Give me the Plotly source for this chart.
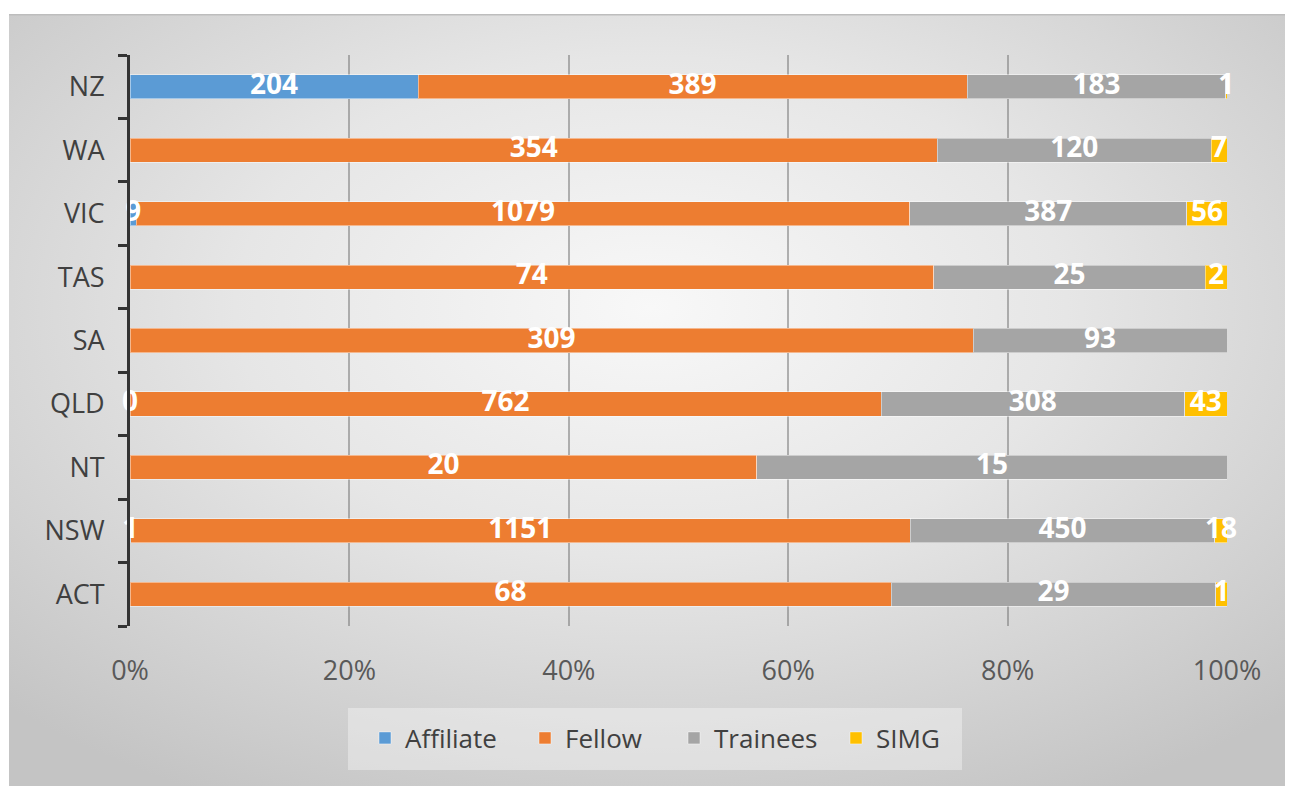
import base64
import numpy as np
import plotly.graph_objects as go

categories = ["ACT", "NSW", "NT", "QLD", "SA", "TAS", "VIC", "WA", "NZ"]
affiliate = [None, 1, None, 0, None, None, 9, None, 204]
fellow = [68, 1151, 20, 762, 309, 74, 1079, 354, 389]
trainees = [29, 450, 15, 308, 93, 25, 387, 120, 183]
simg = [1, 18, None, 43, None, 2, 56, 7, 1]
series_names = ["Affiliate", "Fellow", "Trainees", "SIMG"]
series_colors = ["#5B9BD5", "#ED7D31", "#A5A5A5", "#FFC000"]
legend_widths = [115, 104, 117, 80]
x_ticks = [0, 20, 40, 60, 80, 100]

series = [affiliate, fellow, trainees, simg]

# page has an 8px body margin, so the figure is sized to fit the window
W, H = 1285, 778
ml, mr, mt, mb = 122, 66, 47, 160
pw, ph = W - ml - mr, H - mt - mb

# background radial gradient (chart area style)
cw, ch = W - 1, H - 6
svg = (
    f'<svg xmlns="http://www.w3.org/2000/svg" width="{cw}" height="{ch}" viewBox="0 0 {cw} {ch}" preserveAspectRatio="none">'
    '<defs><radialGradient id="g" cx="50%" cy="38%" r="72%" fx="50%" fy="38%">'
    '<stop offset="0%" stop-color="#f8f8f8"/>'
    '<stop offset="45%" stop-color="#e6e6e6"/>'
    '<stop offset="100%" stop-color="#c4c4c4"/>'
    '</radialGradient></defs>'
    f'<rect x="0" y="0" width="{cw}" height="{ch}" fill="url(#g)"/>'
    f'<line x1="0" y1="0.75" x2="{cw}" y2="0.75" stroke="#bdbdbd" stroke-width="1.5"/>'
    '</svg>'
)
src = "data:image/svg+xml;base64," + base64.b64encode(svg.encode()).decode()
img_x = (1 - ml) / pw
img_y = (H - mb - 6) / ph
img_w = cw / pw
img_h = ch / ph

def px_to_paper_x(px):
    return (px - ml) / pw

def px_to_paper_y(py):
    return (H - mb - py) / ph

fig = go.Figure()

for name, vals, col, lw in zip(series_names, series, series_colors, legend_widths):
    fig.add_trace(go.Bar(
        name=name, y=categories, x=[v if v is not None else 0 for v in vals],
        orientation="h", marker=dict(color=col, line=dict(color="rgba(255,255,255,0.45)", width=1)),
        hoverinfo="x+y+name", legendwidth=lw,
    ))

# data labels centred on each segment
arr = np.array([[np.nan if v is None else v for v in s] for s in series], dtype=float)
filled = np.nan_to_num(arr)
totals = filled.sum(axis=0)
cum = np.cumsum(filled, axis=0)
for i, name in enumerate(series_names):
    mids = (cum[i] - filled[i] / 2) / totals * 100
    texts = ["" if np.isnan(v) else str(int(v)) for v in arr[i]]
    fig.add_trace(go.Scatter(
        x=mids, y=categories, mode="text", text=texts, showlegend=False,
        textfont=dict(color="white", size=28, family="Open Sans", weight="bold"),
        hoverinfo="skip", cliponaxis=False,
    ))

fig.update_layout(
    width=W, height=H,
    margin=dict(l=ml, r=mr, t=mt, b=mb),
    barmode="stack", barnorm="percent", bargap=0.62,
    paper_bgcolor="white", plot_bgcolor="rgba(0,0,0,0)",
    font=dict(family="Open Sans", size=26, color="#595959"),
    images=[dict(source=src, xref="paper", yref="paper", x=img_x, y=img_y,
                 sizex=img_w, sizey=img_h, xanchor="left", yanchor="top",
                 sizing="stretch", layer="below")],
    shapes=[dict(type="rect", xref="paper", yref="paper",
                 x0=px_to_paper_x(340), x1=px_to_paper_x(954),
                 y0=px_to_paper_y(700), y1=px_to_paper_y(762),
                 fillcolor="rgba(255,255,255,0.35)", line=dict(width=0), layer="below")],
    legend=dict(orientation="h", xref="container", yref="container",
                x=(365 - 8) / W, y=1 - 730 / H,
                xanchor="left", yanchor="middle", bgcolor="rgba(0,0,0,0)",
                font=dict(size=26, color="#404040"), traceorder="normal",
                itemwidth=30),
    xaxis=dict(range=[0, 100], tickvals=x_ticks, ticktext=[f"{t}%" for t in x_ticks],
               showgrid=True, gridcolor="rgba(120,120,120,0.55)", gridwidth=1.5,
               zeroline=False, showline=False, ticks="", ticklabelstandoff=26,
               tickfont=dict(size=27, color="#595959"), fixedrange=True),
    yaxis=dict(type="category", categoryorder="array", categoryarray=categories,
               range=[-0.5, len(categories) - 0.5], showgrid=False, zeroline=False,
               showline=True, linecolor="#333333", linewidth=3,
               ticks="outside", tickson="boundaries", ticklen=9, tickwidth=3,
               tickcolor="#333333", ticklabelstandoff=17,
               tickfont=dict(size=27, color="#404040"), fixedrange=True),
)

fig.write_html("out.html")
